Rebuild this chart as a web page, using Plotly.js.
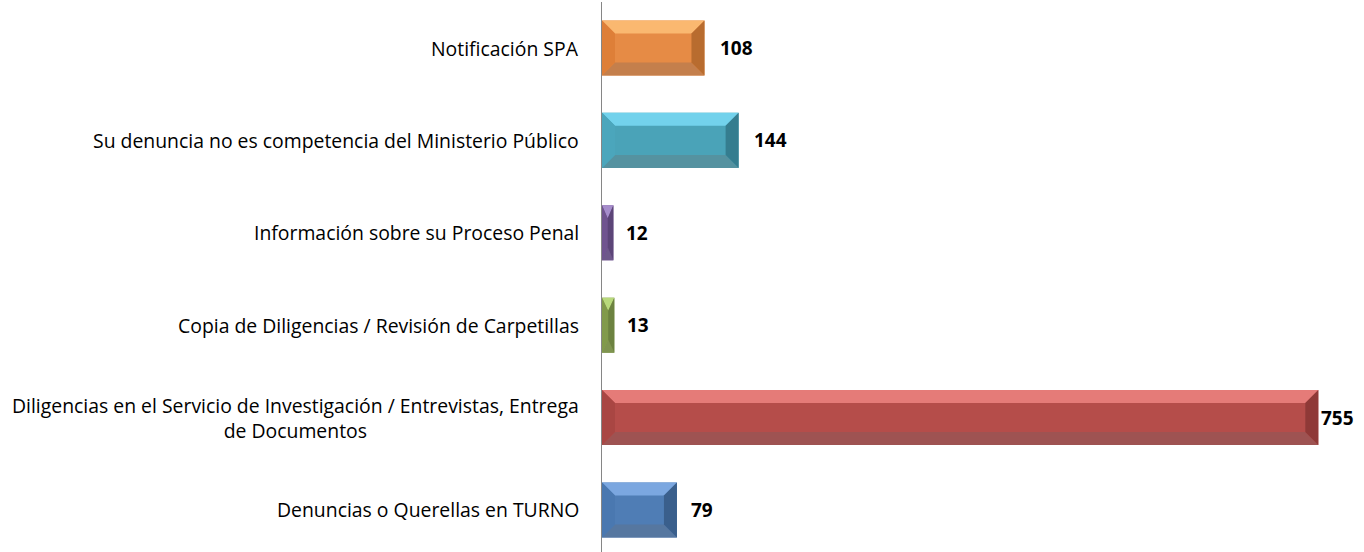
<!DOCTYPE html>
<html>
<head>
<meta charset="utf-8">
<script src="https://cdn.plot.ly/plotly-3.0.1.min.js"></script>
<style>html,body{margin:0;padding:0;background:#fff;}#chart{width:1364px;height:552px;}</style>
</head>
<body>
<div id="chart"></div>
<script>
// Data (bottom to top)
var categories = [
  "Denuncias o Querellas en TURNO",
  "Diligencias en el Servicio de Investigación / Entrevistas, Entrega<br>de Documentos",
  "Copia de Diligencias / Revisión de Carpetillas",
  "Información sobre su Proceso Penal",
  "Su denuncia no es competencia del Ministerio Público",
  "Notificación SPA"
];
var values = [79, 755, 13, 12, 144, 108];
var valueLabels = ["79", "755", "13", "12", "144", "108"];

// Styles: center, top, bottom, left, right
var palette = [
  {c: "#4F7DB5", t: "#7BA7E0", b: "#5677A0", l: "#4A78B0", r: "#3A5F8C"},
  {c: "#B54D4A", t: "#E57B78", b: "#9E5352", l: "#A94643", r: "#8F3937"},
  {c: "#8AA152", t: "#B8D97C", b: "#7F9450", l: "#819A4B", r: "#6C8240"},
  {c: "#775A98", t: "#A68DCB", b: "#6E588A", l: "#70548F", r: "#5C4578"},
  {c: "#4AA3B8", t: "#72D2EC", b: "#5592A0", l: "#4BA6BC", r: "#357D8F"},
  {c: "#E68B45", t: "#FAB870", b: "#C47F4C", l: "#DE7F38", r: "#B86C2F"}
];
var labelShift = [12, 1, 11, 11, 13, 14];

var W = 1364, H = 552;
var mL = 602, mR = 3, mT = 2, mB = 0;
var xMax = 800;
var yRange = [-0.455, 5.498];
var pxPerX = (W - mL - mR) / xMax;
var pxPerY = (H - mT - mB) / (yRange[1] - yRange[0]);
var halfH = 0.298;
var bevelPx = 13;
var FONT = "'Open Sans', Lato, sans-serif";

var idx = categories.map(function(_, i){ return i; });

var trace = {
  type: "bar",
  orientation: "h",
  x: values,
  y: idx,
  width: halfH * 2,
  marker: {color: palette.map(function(p){ return p.c; }), line: {width: 0}},
  hoverinfo: "x",
  showlegend: false
};

var shapes = [];
values.forEach(function(v, i){
  var p = palette[i];
  var bx = Math.min(bevelPx / pxPerX, v / 2);
  var by = bevelPx / pxPerY;
  var c = i, top = c + halfH, bot = c - halfH;
  function path(pts){
    return "M" + pts.map(function(q){ return q[0] + "," + q[1]; }).join(" L") + " Z";
  }
  var polys = [
    [p.t, [[0, top], [v, top], [v - bx, top - by], [bx, top - by]]],
    [p.b, [[0, bot], [v, bot], [v - bx, bot + by], [bx, bot + by]]],
    [p.l, [[0, bot], [0, top], [bx, top - by], [bx, bot + by]]],
    [p.r, [[v, bot], [v, top], [v - bx, top - by], [v - bx, bot + by]]]
  ];
  polys.forEach(function(pp){
    shapes.push({type: "path", xref: "x", yref: "y", path: path(pp[1]),
      fillcolor: pp[0], line: {width: 0}, layer: "above"});
  });
});

var annotations = [];
categories.forEach(function(cat, i){
  annotations.push({
    xref: "paper", yref: "y", x: 0, y: i, xshift: -21,
    xanchor: "right", yanchor: "middle", align: "center",
    text: cat, showarrow: false,
    font: {family: FONT, size: 19.4, color: "#000"}
  });
  annotations.push({
    xref: "x", yref: "y", x: values[i], y: i, xshift: labelShift[i],
    xanchor: "left", yanchor: "middle",
    text: "<b>" + valueLabels[i] + "</b>", showarrow: false,
    font: {family: FONT, size: 19, color: "#000"}
  });
});

var layout = {
  width: W, height: H,
  margin: {l: mL, r: mR, t: mT, b: mB, pad: 0},
  paper_bgcolor: "#fff", plot_bgcolor: "#fff",
  xaxis: {range: [0, xMax], visible: false, fixedrange: true},
  yaxis: {range: yRange, showticklabels: false, showgrid: false, zeroline: false,
          ticks: "", showline: true, linecolor: "#868686", linewidth: 1.3, fixedrange: true},
  barmode: "overlay",
  shapes: shapes,
  annotations: annotations
};

Plotly.newPlot("chart", [trace], layout, {displayModeBar: false, staticPlot: true});
</script>
</body>
</html>
